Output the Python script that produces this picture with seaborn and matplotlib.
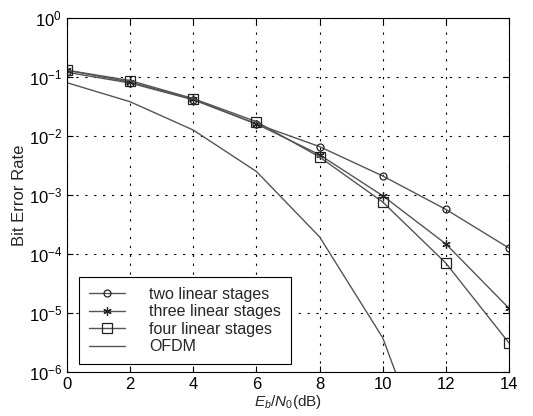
import numpy as np
import pandas as pd
import matplotlib
matplotlib.use("Agg")
import matplotlib.pyplot as plt
import seaborn as sns

snr_db = [0, 2, 4, 6, 8, 10, 12, 14]
ber_two = [0.12, 0.079, 0.041, 0.016, 6.6e-3, 2.1e-3, 5.7e-4, 1.26e-4]
ber_three = [0.13, 0.082, 0.042, 0.016, 4.8e-3, 9.7e-4, 1.48e-4, 1.2e-5]
ber_four = [0.13, 0.087, 0.043, 0.0175, 4.4e-3, 7.6e-4, 7.0e-5, 3.1e-6]
ber_ofdm = [0.08, 0.038, 0.0126, 2.5e-3, 1.95e-4, 3.8e-6, 5e-9, 1e-11]

labels = ["two linear stages", "three linear stages", "four linear stages", "OFDM"]
markers = ["o", (6, 2, 0), "s", None]
marker_sizes = [5, 6, 6.5, 0]

sns.set_style("ticks")
plt.rcParams["font.family"] = ["Liberation Sans", "DejaVu Sans"]
plt.rcParams["mathtext.fontset"] = "custom"
plt.rcParams["mathtext.rm"] = "Liberation Sans"
plt.rcParams["mathtext.it"] = "Liberation Sans:italic"

fig = plt.figure(figsize=(5.33, 4.16), dpi=100)
ax = fig.add_axes([0.1257, 0.1058, 0.8293, 0.851])

line_color = "#555555"
for series, lab, mk, ms in zip([ber_two, ber_three, ber_four, ber_ofdm], labels, markers, marker_sizes):
    sns.lineplot(x=snr_db, y=series, ax=ax, color=line_color, linewidth=1.0,
                 marker=mk, markersize=ms, markerfacecolor="none",
                 markeredgecolor="#222222", markeredgewidth=0.9, label=lab)

ax.set_yscale("log")
ax.set_xlim(0, 14)
ax.set_ylim(1e-6, 1)
ax.set_xticks(range(0, 15, 2))
ax.yaxis.set_major_locator(matplotlib.ticker.LogLocator(base=10, numticks=10))
ax.yaxis.set_minor_locator(matplotlib.ticker.NullLocator())
ax.tick_params(direction="in", length=4, labelsize=12, colors="black", top=True, right=True)
ax.grid(True, which="major", color="black", linestyle=(0, (2, 6)), linewidth=0.8)
for sp in ax.spines.values():
    sp.set_color("black")
    sp.set_linewidth(0.8)

ax.set_xlabel(r"$E_b/N_0$(dB)", fontsize=11, labelpad=1)
ax.set_ylabel("Bit Error Rate", fontsize=12, labelpad=1)

leg = ax.legend(loc="lower left", bbox_to_anchor=(0.027, 0.023), borderaxespad=0,
                fontsize=11.5, frameon=True, fancybox=False, edgecolor="black", framealpha=1,
                handlelength=2.3, handletextpad=1.5, borderpad=0.6, labelspacing=0.15)
leg.get_frame().set_linewidth(0.8)

fig.savefig("out.png", dpi=100)
